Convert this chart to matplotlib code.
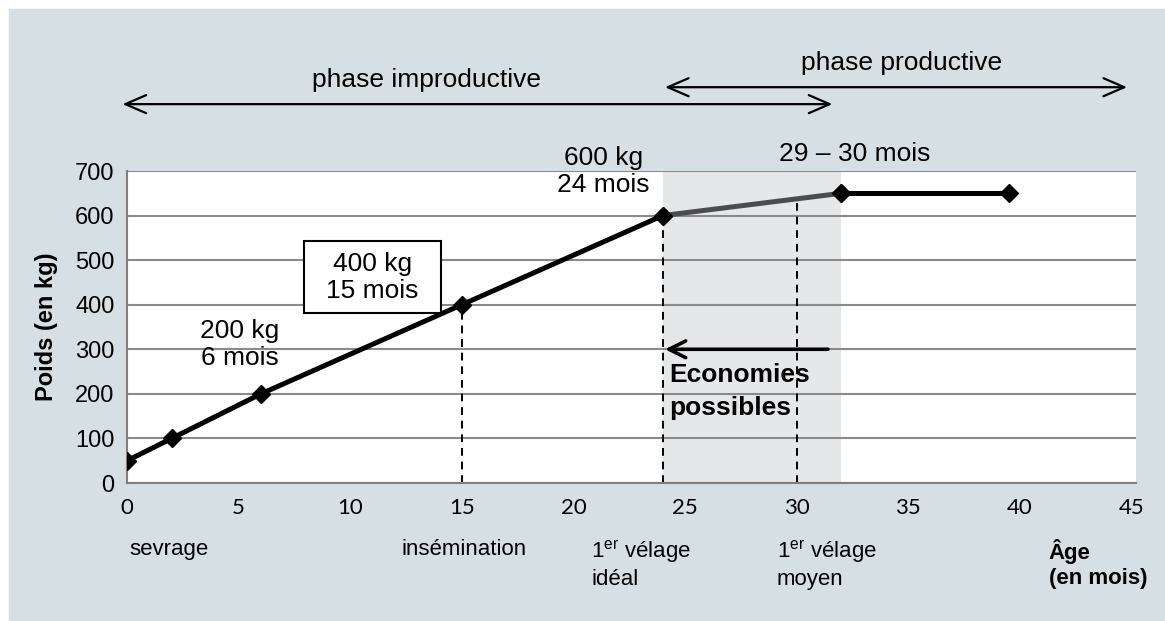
import matplotlib
matplotlib.use("Agg")
import matplotlib.pyplot as plt
from matplotlib.patches import Rectangle

plt.rcParams["font.family"] = ["Liberation Sans", "DejaVu Sans"]
plt.rcParams["mathtext.fontset"] = "custom"
plt.rcParams["mathtext.rm"] = "Liberation Sans"

# growth curve (age in months, weight in kg)
age_ideal = [0, 2, 6, 15, 24]
weight_ideal = [50, 100, 200, 400, 600]
age_extra = [24, 32]
weight_extra = [600, 650]
age_prod = [32, 39.5]
weight_prod = [650, 650]

x_ticks = [0, 5, 10, 15, 20, 25, 30, 35, 40, 45]
y_ticks = [0, 100, 200, 300, 400, 500, 600, 700]

# dashed markers: (age, weight reached)
markers_age = [15, 24, 30]
markers_top = [400, 600, 640]

bottom_labels = ["sevrage", "insémination", "1$^{\\mathrm{er}}$ vélage\nidéal",
                 "1$^{\\mathrm{er}}$ vélage\nmoyen"]
bottom_pos = [0.1, 12.3, 20.8, 29.1]

PANEL = "#d5dfe4"
GRID = "#8a8a8a"
SHADE = "#e6e7e9"
GREY_LINE = "#4b4b50"
FS = 19

fig = plt.figure(figsize=(11.65, 6.21), dpi=100)
fig.patches.append(Rectangle((9 / 1165, 0), 1 - 9 / 1165, 1 - 9 / 621,
                             transform=fig.transFigure, color=PANEL, zorder=-10))

ax = fig.add_axes([127 / 1165, 138 / 621, 1009 / 1165, 312 / 621])
ax.set_facecolor("white")
ax.set_xlim(0, 45.2)
ax.set_ylim(0, 700)

for s in ["top", "right"]:
    ax.spines[s].set_visible(False)
for s in ["left", "bottom"]:
    ax.spines[s].set_color("#7f7f7f")
    ax.spines[s].set_linewidth(1.5)

ax.set_yticks(y_ticks)
ax.set_xticks(x_ticks)
ax.tick_params(length=0)
ax.tick_params(axis="y", pad=9, labelsize=17)
ax.tick_params(axis="x", pad=11, labelsize=16)
for lab in ax.get_xticklabels():
    lab.set_fontfamily("Lato")
ax.yaxis.grid(True, color=GRID, lw=1.5, zorder=1)
ax.set_axisbelow(True)

ax.axvspan(age_extra[0], age_extra[1], color=SHADE, zorder=0.5, lw=0)

for a, top in zip(markers_age, markers_top):
    ax.plot([a, a], [0, top], color="black", lw=1.4, ls=(0, (4, 3)), zorder=2)

ax.plot(age_ideal, weight_ideal, color="black", lw=3.6, marker="D", ms=9.5,
        zorder=4)
ax.plot(age_extra, weight_extra, color=GREY_LINE, lw=3.6, marker="D", ms=9.5,
        zorder=3)
ax.plot(age_prod, weight_prod, color="black", lw=3.6, marker="D", ms=9.5,
        zorder=4)

ax.set_ylabel("Poids (en kg)", fontsize=17, fontweight="bold", labelpad=12)

# point annotations
ax.text(5.05, 310, "200 kg\n6 mois", ha="center", va="center", fontsize=FS,
        linespacing=1.15)
ax.add_patch(Rectangle((7.93, 381), 6.14, 162, fc="white", ec="black",
                       lw=1.5, zorder=5))
ax.text(11.0, 462, "400 kg\n15 mois", ha="center", va="center", fontsize=FS,
        linespacing=1.15, zorder=6)
ax.text(21.35, 698, "600 kg\n24 mois", ha="center", va="center", fontsize=FS,
        linespacing=1.15, clip_on=False)
ax.text(32.6, 738, "29 – 30 mois", ha="center", va="center", fontsize=FS,
        clip_on=False)

# economies arrow
ax.annotate("", xy=(24.1, 300), xytext=(31.4, 300),
            arrowprops=dict(arrowstyle="->,head_length=1.2,head_width=0.6",
                            color="black", lw=2.6, shrinkA=0, shrinkB=0))
ax.text(24.3, 205, "Economies\npossibles", ha="left", va="center",
        fontsize=FS, fontweight="bold", linespacing=1.45)

# phase arrows
ax.annotate("", xy=(-0.2, 850), xytext=(31.6, 850), annotation_clip=False,
            arrowprops=dict(arrowstyle="<->,head_length=1.5,head_width=0.65",
                            color="black", lw=1.6, shrinkA=0, shrinkB=0))
ax.text(13.4, 904, "phase improductive", ha="center", va="center",
        fontsize=FS, clip_on=False)
ax.annotate("", xy=(24.1, 888), xytext=(44.8, 888), annotation_clip=False,
            arrowprops=dict(arrowstyle="<->,head_length=1.5,head_width=0.65",
                            color="black", lw=1.6, shrinkA=0, shrinkB=0))
ax.text(34.7, 942, "phase productive", ha="center", va="center",
        fontsize=FS, clip_on=False)

# bottom labels
for lab, pos in zip(bottom_labels, bottom_pos):
    ax.text(pos, -125, lab, ha="left", va="top", fontsize=16,
            linespacing=1.25, clip_on=False)
ax.text(41.3, -125, "Âge\n(en mois)", ha="left", va="top", fontsize=16,
        fontweight="bold", linespacing=1.25, clip_on=False)

fig.savefig("out.png", dpi=100)
